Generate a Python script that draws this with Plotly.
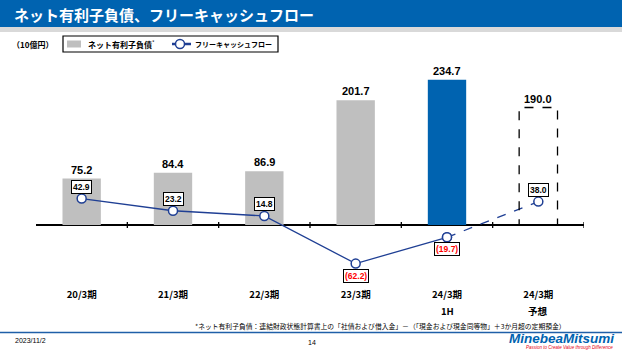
import plotly.graph_objects as go

categories = ["20/3期", "21/3期", "22/3期", "23/3期", "24/3期", "24/3期"]
sub_labels = ["", "", "", "", "1H", "予想"]
net_debt = [75.2, 84.4, 86.9, 201.7, 234.7, 190.0]
fcf = [42.9, 23.2, 14.8, -62.2, -19.7, 38.0]
bar_colors = ["#BFBFBF", "#BFBFBF", "#BFBFBF", "#BFBFBF", "#0063B0", "rgba(0,0,0,0)"]

W, H = 622, 350
L, R, T, B = 36, 584, 58, 287
PW, PH = R - L, B - T


def px(x):
    return (x - L) / PW


def py(y):
    return (B - y) / PH


FONT = "Liberation Sans, Arial, Noto Sans CJK JP, sans-serif"
JFONT = "Noto Sans CJK JP, Liberation Sans, sans-serif"
NAVY = "#1F3F94"
BLUE = "#0063B0"
xs = list(range(len(categories)))

fig = go.Figure()
fig.add_trace(go.Bar(
    x=xs, y=net_debt, width=0.42,
    marker=dict(color=bar_colors, line=dict(width=0)),
    name="ネット有利子負債",
))
# forecast bar outline (dashed)
i = len(categories) - 1
fig.add_shape(type="rect", xref="x", yref="y", x0=xs[i] - 0.21, x1=xs[i] + 0.21,
              y0=0, y1=net_debt[i], line=dict(color="black", width=1.3, dash="dash"),
              fillcolor="rgba(0,0,0,0)", layer="above")

fig.add_trace(go.Scatter(
    x=xs[:5], y=fcf[:5], mode="lines+markers",
    line=dict(color=NAVY, width=1.3),
    marker=dict(size=9, color="white", line=dict(color=NAVY, width=1.5)),
    name="フリーキャッシュフロー",
))
fig.add_trace(go.Scatter(
    x=xs[4:], y=fcf[4:], mode="lines+markers",
    line=dict(color=NAVY, width=1.3, dash="dash"),
    marker=dict(size=9, color="white", line=dict(color=NAVY, width=1.5)),
))

annotations = []
for x, v in zip(xs, net_debt):
    annotations.append(dict(x=x, y=v, xref="x", yref="y", text=f"<b>{v:.1f}</b>",
                            showarrow=False, yshift=9, font=dict(size=11, color="black", family=FONT)))
for x, v in zip(xs, fcf):
    if v >= 0:
        txt, col, ys = f"<b>{v:.1f}</b>", "black", 12
    else:
        txt, col, ys = f"<b>({-v:.1f})</b>", "#FF0000", -12
    annotations.append(dict(x=x, y=v, xref="x", yref="y", text=txt, showarrow=False, yshift=ys,
                            font=dict(size=8.5, color=col, family=FONT), bgcolor="white",
                            bordercolor="black", borderwidth=1, borderpad=1))
for x, s in zip(xs, sub_labels):
    if s:
        annotations.append(dict(x=x, y=py(311), xref="x", yref="paper", text=f"<b>{s}</b>",
                                showarrow=False, yanchor="middle",
                                font=dict(size=9.5, color="black", family=JFONT)))

shapes = []
# axis ticks at category boundaries
for k in range(len(categories) + 1):
    shapes.append(dict(type="line", xref="x", yref="y", ysizemode="pixel", yanchor=0,
                       x0=k - 0.5, x1=k - 0.5, y0=-3, y1=3, line=dict(color="black", width=1.3)))
# title bar
shapes.append(dict(type="rect", xref="paper", yref="paper", x0=px(0), x1=px(W), y0=py(27), y1=py(0),
                   fillcolor=BLUE, line=dict(width=0), layer="below"))
shapes.append(dict(type="rect", xref="paper", yref="paper", x0=px(0), x1=px(W), y0=py(32), y1=py(27),
                   fillcolor="#D9D9D9", line=dict(width=0), layer="below"))
# footer line
shapes.append(dict(type="line", xref="paper", yref="paper", x0=px(0), x1=px(W), y0=py(332.5), y1=py(332.5),
                   line=dict(color="#1F5FA8", width=1.5)))
# custom legend
shapes += [
    dict(type="rect", xref="paper", yref="paper", x0=px(63), x1=px(278), y0=py(52), y1=py(36),
         line=dict(color="black", width=1.2), fillcolor="white"),
    dict(type="rect", xref="paper", yref="paper", x0=px(67), x1=px(81), y0=py(47.5), y1=py(40.5),
         line=dict(width=0), fillcolor="#BFBFBF"),
    dict(type="line", xref="paper", yref="paper", x0=px(172), x1=px(191), y0=py(44), y1=py(44),
         line=dict(color=NAVY, width=2.5)),
    dict(type="circle", xref="paper", yref="paper", x0=px(175.5), x1=px(184.5), y0=py(48.5), y1=py(39.5),
         line=dict(color=NAVY, width=1.5), fillcolor="white"),
]

annotations += [
    dict(x=px(12), y=py(14), xref="paper", yref="paper", xanchor="left", yanchor="middle",
         text="<b>ネット有利子負債、フリーキャッシュフロー</b>", showarrow=False,
         font=dict(size=15, color="white", family=JFONT)),
    dict(x=px(10), y=py(44), xref="paper", yref="paper", xanchor="left", yanchor="middle",
         text="<b>（10億円）</b>", showarrow=False, font=dict(size=8, color="black", family=JFONT)),
    dict(x=px(86), y=py(44), xref="paper", yref="paper", xanchor="left", yanchor="middle",
         text="<b>ネット有利子負債</b><sup>*</sup>", showarrow=False,
         font=dict(size=8, color="black", family=JFONT)),
    dict(x=px(193), y=py(44), xref="paper", yref="paper", xanchor="left", yanchor="middle",
         text="<b>フリーキャッシュフロー</b>", showarrow=False,
         font=dict(size=7, color="black", family=JFONT)),
    dict(x=px(380), y=py(326), xref="paper", yref="paper", xanchor="center", yanchor="middle",
         text="*ネット有利子負債：連結財政状態計算書上の「社債および借入金」－（「現金および現金同等物」＋3か月超の定期預金）",
         showarrow=False, font=dict(size=6.8, color="black", family=JFONT)),
    dict(x=px(13), y=py(340), xref="paper", yref="paper", xanchor="left", yanchor="middle",
         text="2023/11/2", showarrow=False, font=dict(size=7, color="black", family=FONT)),
    dict(x=px(312), y=py(342), xref="paper", yref="paper", xanchor="center", yanchor="middle",
         text="14", showarrow=False, font=dict(size=7, color="black", family=FONT)),
    dict(x=px(616), y=py(338), xref="paper", yref="paper", xanchor="right", yanchor="middle",
         text="<b><i>MinebeaMitsumi</i></b>", showarrow=False,
         font=dict(size=13.5, color=BLUE, family=FONT)),
    dict(x=px(615), y=py(347), xref="paper", yref="paper", xanchor="right", yanchor="middle",
         text="<i>Passion to Create Value through Difference</i>", showarrow=False,
         font=dict(size=4.5, color="#E60012", family=FONT)),
]

fig.update_layout(
    width=W, height=H,
    margin=dict(l=L, r=W - R, t=T, b=H - B, pad=0),
    plot_bgcolor="white", paper_bgcolor="white",
    barmode="overlay",
    xaxis=dict(range=[-0.5, 5.5], tickmode="array", tickvals=xs, ticktext=[f"<b>{c}</b>" for c in categories],
               showgrid=False, zeroline=False, showline=False, ticks="",
               tickfont=dict(size=9.5, color="black", family=JFONT)),
    yaxis=dict(range=[-100, 270], showgrid=False, showticklabels=False, zeroline=True,
               zerolinecolor="black", zerolinewidth=1.5, showline=False, ticks=""),
    annotations=annotations,
    shapes=shapes,
    showlegend=False,
)

fig.write_html("out.html")
